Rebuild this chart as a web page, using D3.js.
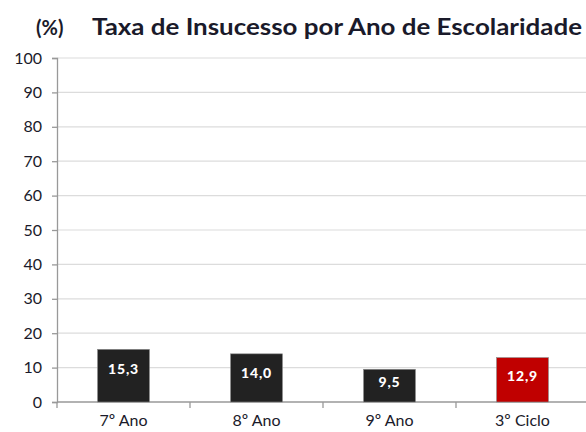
<!DOCTYPE html>
<html><head><meta charset="utf-8">
<script src="https://cdn.jsdelivr.net/npm/d3@7"></script>
<style>body{margin:0;background:#fff}svg{display:block}</style>
</head><body>
<svg id="c" width="586" height="432"></svg>
<script>
const categories = ["7º Ano","8º Ano","9º Ano","3º Ciclo"];
const values = [15.3, 14.0, 9.5, 12.9];
const labels = ["15,3","14,0","9,5","12,9"];
const colors = ["#222222","#222222","#222222","#c00000"];
const yTicks = [0,10,20,30,40,50,60,70,80,90,100];

const svg = d3.select("#c");
const font = "Lato, 'Open Sans', sans-serif";
const x = d3.scaleBand().domain(categories).range([57, 589]).paddingInner(0.61).paddingOuter(0.305);
const y = d3.scaleLinear().domain([0,100]).range([402, 58]);

// gridlines
svg.append("g").selectAll("line").data(yTicks.filter(d=>d>0)).join("line")
  .attr("x1",57).attr("x2",586).attr("y1",d=>y(d)).attr("y2",d=>y(d))
  .attr("stroke","#dcdcdc").attr("stroke-width",1.2);

// y axis
const ya = svg.append("g").attr("transform","translate(57,0)")
  .call(d3.axisLeft(y).tickValues(yTicks).tickSize(5).tickPadding(10));
ya.select(".domain").attr("stroke","#999").attr("stroke-width",1.3);
ya.selectAll(".tick line").attr("stroke","#999").attr("stroke-width",1.3);
ya.selectAll(".tick text").attr("font-family",font).attr("font-size",16).attr("fill","#1a1a2a");

// x axis
const xTickScale = d3.scaleLinear().domain([0,4]).range([57,589]);
const xa = svg.append("g").attr("transform","translate(0,402)");
xa.append("line").attr("x1",57).attr("x2",589).attr("stroke","#999").attr("stroke-width",1.3);
xa.selectAll("line.t").data([0,1,2,3,4]).join("line").attr("class","t")
  .attr("x1",d=>xTickScale(d)).attr("x2",d=>xTickScale(d)).attr("y1",0).attr("y2",6)
  .attr("stroke","#999").attr("stroke-width",1.3);
xa.selectAll("text").data(categories).join("text")
  .attr("x",d=>x(d)+x.bandwidth()/2).attr("y",24)
  .attr("text-anchor","middle").attr("font-family",font).attr("font-size",16).attr("fill","#1a1a2a")
  .text(d=>d);

// bars
svg.append("g").selectAll("rect").data(values).join("rect")
  .attr("x",(d,i)=>x(categories[i])).attr("width",x.bandwidth())
  .attr("y",d=>y(d)).attr("height",d=>y(0)-y(d))
  .attr("fill",(d,i)=>colors[i]).attr("stroke","#888").attr("stroke-width",0.6);

svg.append("g").selectAll("text").data(values).join("text")
  .attr("x",(d,i)=>x(categories[i])+x.bandwidth()/2)
  .attr("y",d=>Math.min(y(d)+19, (y(d)+y(0))/2 - 4))
  .attr("dominant-baseline","central")
  .attr("text-anchor","middle").attr("font-family",font).attr("font-weight","900")
  .attr("font-size",14).attr("letter-spacing",0.8).attr("fill","#fff").text((d,i)=>labels[i]);

// title
svg.append("text").attr("x",36).attr("y",35).attr("font-family",font).attr("font-weight","bold")
  .attr("font-size",20).attr("fill","#1a1a2a").text("(%)");
svg.append("text").attr("x",92).attr("y",35).attr("font-family",font).attr("font-weight","bold")
  .attr("font-size",23).attr("fill","#1a1a2a").attr("textLength",490).attr("lengthAdjust","spacingAndGlyphs")
  .text("Taxa de Insucesso por Ano de Escolaridade");
</script>
</body></html>
